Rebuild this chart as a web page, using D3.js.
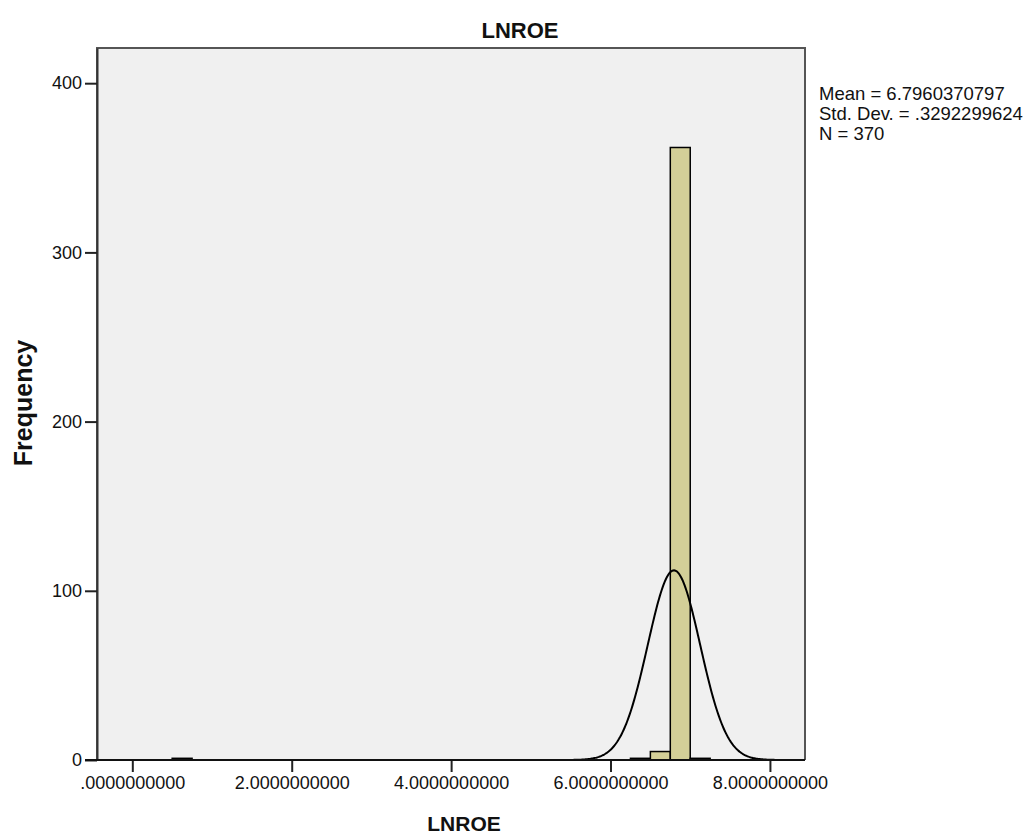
<!DOCTYPE html>
<html>
<head>
<meta charset="utf-8">
<script src="https://cdn.jsdelivr.net/npm/d3@7"></script>
<style>
  body { margin: 0; background: #ffffff; }
  svg { display: block; font-family: "Liberation Sans", Arial, sans-serif; }
</style>
</head>
<body>
<svg id="chart" width="1033" height="839"></svg>
<script>
// ---- data ----
const binLower = [0.5, 6.25, 6.5, 6.75, 7.0];
const binWidth = 0.25;
const counts = [1, 1, 5, 362, 1];
const xTicks = [0, 2, 4, 6, 8];
const xTickLabels = [".0000000000", "2.0000000000", "4.0000000000", "6.0000000000", "8.0000000000"];
const yTicks = [0, 100, 200, 300, 400];
const statsLines = ["Mean = 6.7960370797", "Std. Dev. = .3292299624", "N = 370"];
const meanVal = 6.7960370797;
const sdVal = 0.3292299624;
const nVal = 370;
const titleText = "LNROE";
const xTitle = "LNROE";
const yTitle = "Frequency";

// ---- layout ----
const plot = { left: 97, top: 48, right: 805, bottom: 760 };
const svg = d3.select("#chart");

const x = d3.scaleLinear().domain([-0.443, 8.44]).range([plot.left, plot.right]);
const y = d3.scaleLinear().domain([0, 420.8]).range([plot.bottom, plot.top]);

// plot background
svg.append("rect")
  .attr("x", plot.left).attr("y", plot.top)
  .attr("width", plot.right - plot.left).attr("height", plot.bottom - plot.top)
  .attr("fill", "#f0f0f0");

svg.append("defs").append("clipPath").attr("id", "clip")
  .append("rect")
  .attr("x", plot.left).attr("y", plot.top)
  .attr("width", plot.right - plot.left).attr("height", plot.bottom - plot.top);

// bars
const bars = binLower.map((b, i) => ({ x0: b, x1: b + binWidth, c: counts[i] }));
svg.append("g").selectAll("rect").data(bars).join("rect")
  .attr("x", d => x(d.x0))
  .attr("y", d => y(d.c))
  .attr("width", d => x(d.x1) - x(d.x0))
  .attr("height", d => y(0) - y(d.c))
  .attr("fill", "#d3cf98")
  .attr("stroke", "#000")
  .attr("stroke-width", 1.5);

// normal curve from the stated mean / sd / N
const curvePts = d3.range(0, 801).map(i => {
  const xv = x.domain()[0] + (x.domain()[1] - x.domain()[0]) * i / 800;
  const z = (xv - meanVal) / sdVal;
  const yv = nVal * binWidth * Math.exp(-0.5 * z * z) / (sdVal * Math.sqrt(2 * Math.PI));
  return [xv, yv];
});
svg.append("path")
  .datum(curvePts)
  .attr("clip-path", "url(#clip)")
  .attr("fill", "none")
  .attr("stroke", "#000")
  .attr("stroke-width", 2)
  .attr("d", d3.line().x(d => x(d[0])).y(d => y(d[1])));

// frame
svg.append("path")
  .attr("d", `M${plot.left},${plot.bottom}V${plot.top}H${plot.right}V${plot.bottom}`)
  .attr("fill", "none").attr("stroke", "#555").attr("stroke-width", 2);

// axes
const yAxis = svg.append("g")
  .attr("transform", `translate(${plot.left},0)`)
  .call(d3.axisLeft(y).tickValues(yTicks).tickSizeInner(12).tickSizeOuter(0).tickPadding(3).tickFormat(d3.format("d")));
yAxis.select(".domain").attr("stroke", "#333").attr("stroke-width", 2);
yAxis.selectAll(".tick line").attr("stroke", "#222").attr("stroke-width", 2);
yAxis.selectAll("text").attr("font-size", 18).attr("fill", "#111")
  .attr("font-family", "Liberation Sans, Arial, sans-serif");

const xAxis = svg.append("g")
  .attr("transform", `translate(0,${plot.bottom})`)
  .call(d3.axisBottom(x).tickValues(xTicks).tickSizeInner(12).tickSizeOuter(0).tickPadding(4)
    .tickFormat((d, i) => xTickLabels[i]));
xAxis.select(".domain").remove();
xAxis.selectAll(".tick line").attr("stroke", "#222").attr("stroke-width", 2);
xAxis.selectAll("text").attr("font-size", 18).attr("fill", "#111")
  .attr("font-family", "Liberation Sans, Arial, sans-serif");

// baseline (black), extended under the 0 tick
svg.append("line")
  .attr("x1", plot.left - 12).attr("x2", plot.right)
  .attr("y1", plot.bottom).attr("y2", plot.bottom)
  .attr("stroke", "#111").attr("stroke-width", 2);

// titles
svg.append("text")
  .attr("x", 520).attr("y", 38)
  .attr("text-anchor", "middle")
  .attr("font-size", 22).attr("font-weight", "bold").attr("fill", "#111")
  .text(titleText);

svg.append("text")
  .attr("x", 464).attr("y", 831)
  .attr("text-anchor", "middle")
  .attr("font-size", 21).attr("font-weight", "bold").attr("fill", "#111")
  .text(xTitle);

svg.append("text")
  .attr("transform", "translate(32,403) rotate(-90)")
  .attr("text-anchor", "middle")
  .attr("font-size", 25).attr("font-weight", "bold").attr("fill", "#111")
  .text(yTitle);

// stats legend
svg.append("g").selectAll("text").data(statsLines).join("text")
  .attr("x", 819)
  .attr("y", (d, i) => 100 + i * 20)
  .attr("font-size", 18.5)
  .attr("fill", "#111")
  .text(d => d);
</script>
</body>
</html>
